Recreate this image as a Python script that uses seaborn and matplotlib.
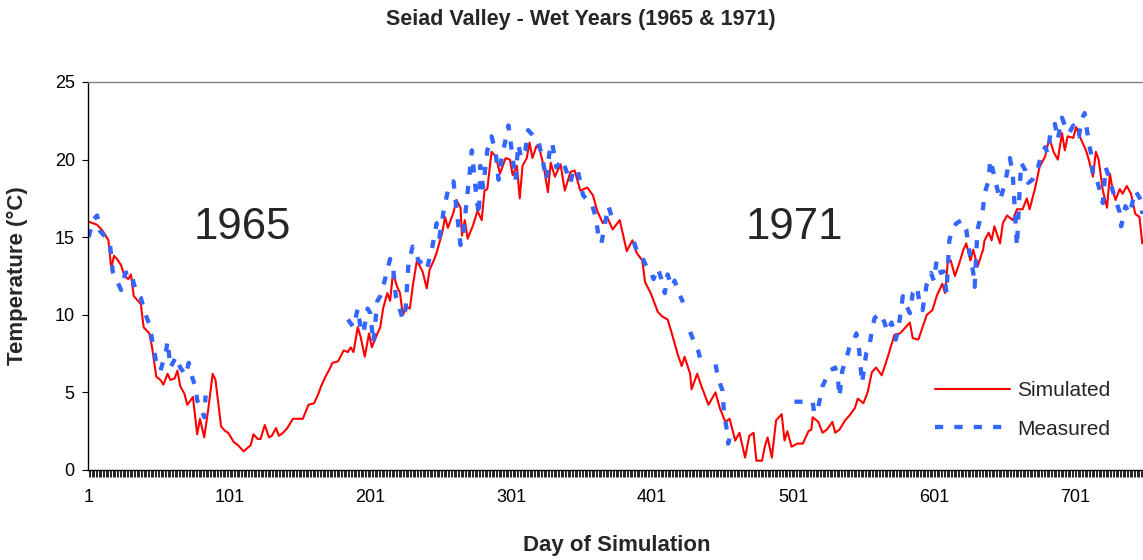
import numpy as np
import pandas as pd
import matplotlib
matplotlib.use("Agg")
import matplotlib.pyplot as plt
import matplotlib.ticker as mtick
import seaborn as sns

# Simulated water temperature (day of simulation -> deg C)
sim_day = [1, 4, 7, 11, 15, 17, 19, 21, 24, 26, 29, 31, 33, 38, 40, 44, 46, 49, 52, 54,
           57, 59, 62, 64, 66, 69, 71, 75, 78, 80, 83, 86, 89, 91, 93, 95, 98, 100, 104, 107,
           111, 116, 118, 121, 123, 126, 129, 131, 134, 136, 139, 142, 146, 150, 153, 157, 161, 164, 166, 169,
           172, 174, 178, 182, 185, 187, 189, 192, 194, 197, 200, 202, 206, 208, 210, 213, 215, 217, 220, 222,
           224, 227, 229, 231, 234, 238, 241, 243, 246, 248, 252, 254, 256, 260, 262, 265, 266, 268, 270, 274,
           277, 280, 282, 284, 287, 290, 293, 297, 300, 302, 305, 307, 309, 312, 314, 316, 319, 321, 324, 327,
           329, 332, 336, 339, 343, 346, 350, 355, 359, 362, 366, 369, 373, 378, 383, 387, 390, 394, 396, 400,
           405, 408, 412, 415, 419, 422, 424, 428, 429, 433, 436, 441, 446, 449, 453, 456, 460, 463, 467, 470,
           473, 475, 479, 481, 483, 486, 489, 493, 495, 497, 500, 504, 508, 512, 514, 515, 519, 522, 525, 529,
           531, 534, 538, 541, 545, 547, 551, 554, 557, 560, 564, 568, 570, 573, 577, 580, 584, 586, 590, 593,
           596, 600, 603, 607, 609, 611, 613, 616, 619, 622, 624, 627, 629, 632, 636, 637, 640, 642, 644, 648,
           650, 653, 657, 660, 664, 667, 669, 673, 676, 680, 683, 686, 689, 692, 694, 696, 700, 702, 706, 709,
           711, 714, 716, 718, 721, 724, 726, 728, 730, 733, 735, 738, 741, 744, 747, 749]
sim_temp = [16.0, 15.9, 15.8, 15.4, 14.8, 13.0, 13.8, 13.6, 13.2, 12.6, 12.3, 12.6, 11.2, 10.7, 9.2, 8.8, 7.9, 6.0, 5.8, 5.5,
            6.2, 5.8, 5.9, 6.4, 5.4, 4.9, 4.2, 4.7, 2.3, 3.3, 2.1, 4.0, 6.2, 5.8, 4.3, 2.8, 2.5, 2.4, 1.8, 1.6,
            1.2, 1.6, 2.3, 2.0, 2.0, 2.9, 2.1, 2.2, 2.7, 2.2, 2.4, 2.7, 3.3, 3.3, 3.3, 4.2, 4.3, 4.9, 5.4, 6.0,
            6.5, 6.9, 7.0, 7.7, 7.6, 7.9, 7.6, 9.2, 8.6, 7.3, 8.8, 7.9, 8.8, 9.2, 10.4, 11.4, 10.9, 12.7, 11.8, 11.4,
            10.0, 10.5, 10.4, 11.8, 13.5, 12.8, 11.7, 12.9, 13.5, 14.0, 15.3, 16.3, 15.6, 16.6, 17.4, 16.9, 15.1, 16.1, 14.9, 15.8,
            16.7, 16.1, 18.0, 18.1, 20.5, 20.2, 19.1, 20.1, 20.0, 19.0, 19.6, 17.5, 19.6, 20.1, 21.1, 20.1, 20.9, 20.7, 19.6, 17.9,
            19.8, 18.9, 19.7, 18.0, 19.2, 19.3, 18.0, 18.2, 17.7, 16.7, 15.9, 16.3, 15.5, 16.1, 14.1, 14.8, 14.0, 13.5, 12.1, 11.4,
            10.2, 9.9, 9.7, 8.8, 7.5, 6.7, 7.3, 6.2, 5.2, 6.2, 5.4, 4.2, 5.0, 4.0, 3.1, 3.3, 1.9, 2.4, 0.8, 2.2,
            2.4, 0.6, 0.6, 1.5, 2.1, 0.8, 3.2, 3.6, 1.9, 2.5, 1.5, 1.7, 1.7, 2.5, 2.6, 3.4, 3.1, 2.4, 2.6, 3.1,
            2.4, 2.6, 3.2, 3.5, 4.0, 4.6, 4.3, 5.0, 6.3, 6.6, 6.1, 7.2, 7.8, 8.7, 8.8, 9.1, 9.5, 8.5, 8.4, 9.2,
            10.0, 10.3, 11.2, 12.0, 11.4, 13.5, 13.5, 12.5, 13.3, 14.2, 14.6, 13.5, 14.2, 13.1, 14.2, 14.8, 15.3, 14.8, 15.7, 14.6,
            15.9, 16.4, 16.1, 16.8, 16.8, 17.5, 16.8, 18.2, 19.5, 20.2, 21.4, 20.5, 20.0, 21.7, 20.6, 21.5, 21.4, 22.1, 21.2, 20.6,
            20.0, 18.9, 20.5, 20.0, 18.0, 16.9, 19.1, 18.0, 17.4, 18.1, 17.8, 18.3, 17.8, 16.5, 16.3, 14.6]

# Measured water temperature, one list per continuous record (gaps between)
meas_day = [
    [1, 4, 7, 9, 13, 16, 17, 18, 21, 24, 27, 31, 33, 36, 38, 41, 44, 46, 49, 52,
     56, 57, 59, 63, 66, 70, 72, 74, 77, 78, 80, 83, 84],
    [185, 189, 192, 194, 196, 199, 201, 203, 206, 208, 210, 213, 215, 217, 219, 221, 224, 226, 228, 231,
     233, 235, 238, 241, 245, 248, 250, 253, 256, 260, 262, 265, 267, 270, 272, 273, 276, 278, 279, 281,
     284, 287, 290, 292, 294, 297, 299, 302, 304, 306, 308, 311, 313, 317, 320, 323, 326, 328, 330, 333,
     337, 340, 343, 345, 348, 350, 352, 355, 358, 361, 363, 365, 368, 370, 372],
    [388, 391, 394, 397, 400, 402, 405, 408, 410, 412, 415, 417, 420, 423],
    [428, 431, 434, 436],
    [446, 448, 451, 452, 454, 455, 457, 459],
    [502, 509, 515, 516, 518, 520, 522, 525, 527, 531, 533, 534, 536, 539, 541, 544, 546, 548, 550, 553,
     555, 557, 559, 563, 566, 568, 571, 574, 576, 579, 581, 584, 586, 589, 591, 593, 596, 599, 601, 603,
     606, 608, 610, 612, 614, 617, 621, 624, 626, 629, 630, 632, 636, 637, 640, 641, 643, 645, 648, 650,
     652, 655, 657, 660, 662, 663, 666, 668, 671, 675, 677, 680, 682, 684, 687, 689, 692, 694, 697, 700,
     704, 706, 708, 711, 713, 714, 716, 718, 721, 723, 726, 728, 730, 733, 734, 737, 740, 744, 748, 749],
]
meas_temp = [
    [15.0, 16.1, 16.4, 15.4, 15.0, 14.6, 13.8, 12.8, 12.2, 11.6, 12.7, 12.8, 12.0, 11.3, 11.1, 10.1, 9.4, 8.4, 6.9, 6.4,
     7.7, 8.3, 6.6, 7.3, 6.6, 6.1, 6.9, 6.1, 5.3, 4.5, 4.1, 3.4, 4.8],
    [9.7, 9.2, 10.4, 9.2, 8.8, 10.4, 10.1, 8.2, 10.9, 11.2, 11.8, 12.9, 13.6, 13.2, 11.2, 10.6, 9.7, 10.4, 13.3, 14.4,
     14.2, 13.5, 13.3, 12.9, 14.4, 15.9, 15.0, 16.7, 18.0, 18.6, 16.9, 14.5, 15.3, 17.9, 19.6, 20.6, 17.8, 16.4, 19.6, 18.2,
     20.6, 21.5, 20.4, 18.7, 20.0, 21.3, 22.2, 20.1, 18.7, 21.0, 20.1, 20.6, 21.9, 21.5, 21.3, 20.1, 18.7, 20.4, 21.1, 19.5,
     20.0, 19.3, 18.5, 19.3, 19.4, 18.5, 17.7, 17.4, 17.2, 16.3, 15.0, 14.6, 16.1, 17.0, 16.4],
    [14.7, 13.9, 13.7, 13.1, 12.8, 12.3, 13.0, 12.2, 11.4, 12.6, 11.8, 12.2, 11.4, 10.8],
    [8.9, 8.2, 7.6, 6.8],
    [6.8, 5.9, 5.1, 3.7, 2.6, 1.7, 2.4, 2.1],
    [4.4, 4.4, 4.4, 3.7, 3.7, 4.5, 5.4, 6.0, 6.4, 6.6, 5.8, 4.7, 6.4, 7.2, 7.9, 8.3, 8.8, 7.7, 5.6, 7.5,
     7.8, 9.0, 9.8, 10.1, 9.5, 8.9, 9.5, 8.4, 9.2, 11.2, 10.7, 10.1, 11.4, 11.8, 10.7, 10.3, 12.0, 12.7, 12.2, 13.5,
     12.7, 12.8, 11.4, 14.8, 15.5, 15.9, 16.1, 15.5, 14.2, 12.7, 11.8, 15.5, 16.9, 17.8, 18.7, 20.0, 19.3, 18.5, 17.4, 18.0,
     18.7, 20.1, 19.1, 14.4, 18.2, 19.8, 19.3, 18.5, 18.7, 19.5, 20.2, 20.8, 20.4, 21.9, 22.3, 21.3, 22.7, 22.2, 21.7, 22.2,
     21.5, 22.6, 23.0, 21.1, 20.2, 18.9, 18.9, 18.3, 17.2, 19.5, 18.7, 18.0, 17.4, 16.6, 15.7, 17.0, 16.5, 18.0, 17.4, 16.5],
]

major_days = [1, 101, 201, 301, 401, 501, 601, 701]
y_ticks = [0, 5, 10, 15, 20, 25]

sim_df = pd.DataFrame({"day": sim_day, "temp": sim_temp})
meas_df = pd.concat(
    [pd.DataFrame({"day": d, "temp": t, "seg": i}) for i, (d, t) in enumerate(zip(meas_day, meas_temp))],
    ignore_index=True,
)

sns.set_theme(style="white")
plt.rcParams["font.family"] = ["Liberation Sans", "DejaVu Sans"]

RED = "#FF0000"
BLUE = "#3366FF"

fig = plt.figure(figsize=(11.43, 5.6), dpi=100)
ax = fig.add_axes([88 / 1143, 90 / 560, 1 - 88 / 1143, 388 / 560])

sns.lineplot(data=sim_df, x="day", y="temp", ax=ax, color=RED, linewidth=1.5,
             estimator=None, sort=False, legend=False)
sns.lineplot(data=meas_df, x="day", y="temp", units="seg", ax=ax, color=BLUE, linewidth=3.1,
             estimator=None, sort=False, legend=False)
lines = ax.get_lines()
for line in lines[1:]:
    line.set_dashes((1.9, 2.6))
    line.set_dash_capstyle("butt")

ax.set_xlim(0.5, 749.5)
ax.set_ylim(0, 25)
ax.set_xticks(major_days)
ax.set_xticklabels([str(d) for d in major_days])
ax.xaxis.set_minor_locator(mtick.MultipleLocator(1))
ax.set_yticks(y_ticks)

ax.tick_params(axis="x", which="both", direction="out", length=5, width=0.6,
               bottom=True, colors="black", labelsize=13, pad=9)
ax.tick_params(axis="y", which="major", direction="out", length=4.5, width=0.8,
               left=True, colors="black", labelsize=13, pad=5)

for side in ["left", "bottom"]:
    ax.spines[side].set_color("black")
    ax.spines[side].set_linewidth(1.0)
ax.spines["top"].set_color("#808080")
ax.spines["top"].set_linewidth(1.0)
ax.spines["right"].set_visible(False)

ax.set_xlabel("Day of Simulation", fontsize=16, fontweight="bold")
ax.set_ylabel("Temperature (\u00b0C)", fontsize=16, fontweight="bold")
ax.xaxis.set_label_coords(0.501, -0.168)
ax.yaxis.set_label_coords(-0.057, 0.5)

ax.text(110, 15.6, "1965", fontsize=31.5, ha="center", va="center")
ax.text(502, 15.6, "1971", fontsize=31.5, ha="center", va="center")

fig.text(581 / 1143, 1 - 19 / 560, "Seiad Valley - Wet Years (1965 & 1971)",
         fontsize=15.5, fontweight="bold", ha="center", va="center")

ax.legend([lines[0], lines[1]], ["Simulated", "Measured"], loc="upper left",
          bbox_to_anchor=(935 / 1143, 1 - 381 / 560), bbox_transform=fig.transFigure,
          frameon=False, fontsize=15, handlelength=3.6, handletextpad=0.33,
          labelspacing=0.95, borderpad=0, borderaxespad=0)

fig.savefig("out.png", dpi=100)
